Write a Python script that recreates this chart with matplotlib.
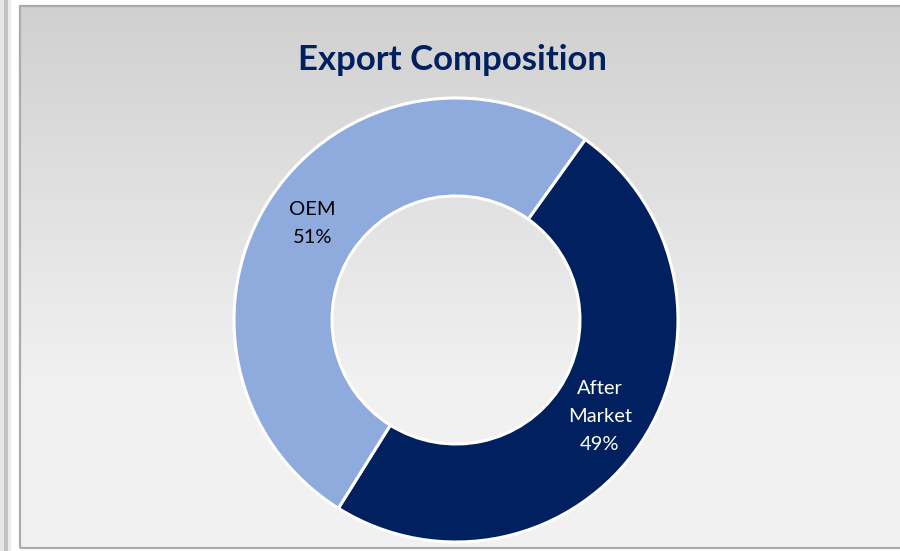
import numpy as np
import matplotlib
matplotlib.use("Agg")
from matplotlib import pyplot as plt
from matplotlib.patches import Rectangle

plt.rcParams['font.family'] = ['Lato', 'DejaVu Sans']

# data
categories = ["After Market", "OEM"]
label_names = ["After\nMarket", "OEM"]
shares = [49, 51]
colors = ["#002060", "#8FAADC"]
text_colors = ["white", "black"]
title = "Export Composition"

W, H = 900, 551
fig = plt.figure(figsize=(W / 100, H / 100), dpi=100)
fig.patch.set_facecolor("white")
ax = fig.add_axes([0, 0, 1, 1])
ax.set_xlim(0, W)
ax.set_ylim(0, H)
ax.set_aspect("equal")
ax.axis("off")

# left strip of the sheet
ax.add_patch(Rectangle((0, 0), 4, H, facecolor="#E6E6E6", edgecolor="none", zorder=0))
ax.add_patch(Rectangle((4, 0), 4, H, facecolor="#C2C2C2", edgecolor="none", zorder=0))
ax.add_patch(Rectangle((8, 0), 3, H, facecolor="#EBEBEB", edgecolor="none", zorder=0))

# chart area with vertical gradient
x0, x1, ytop, ybot = 20, W + 5, H - 6, H - 548
t = np.linspace(0, 1, 256)
g = np.clip(t / 0.72, 0, 1)
col = 0.816 + (0.949 - 0.816) * g
grad = np.repeat(col[:, None, None], 3, axis=2)
ax.imshow(grad, extent=(x0, x1, ybot, ytop), origin="upper", aspect="auto",
          zorder=0.5, interpolation="bilinear")
ax.add_patch(Rectangle((x0, ybot), x1 - x0, ytop - ybot, facecolor="none",
                       edgecolor="#ABABAB", linewidth=1.6, zorder=1))

# donut
cx, cy, r_out = 456, H - 320, 222
r_in = 124
ring = (r_out - r_in) / r_out
startangle = 54.4

wedges, _ = ax.pie(shares, colors=colors, startangle=startangle, counterclock=False,
                   center=(cx, cy), radius=r_out, frame=True,
                   wedgeprops=dict(width=r_out * ring, edgecolor="white", linewidth=2.2))
ax.set_xlim(0, W)
ax.set_ylim(0, H)
ax.axis("off")

r_lab = (r_out + r_in) / 2
for w, name, v, tc in zip(wedges, label_names, shares, text_colors):
    ang = np.deg2rad((w.theta1 + w.theta2) / 2)
    ax.text(cx + r_lab * np.cos(ang), cy + r_lab * np.sin(ang), f"{name}\n{v}%",
            ha="center", va="center", color=tc, fontsize=14.5, linespacing=1.8, zorder=5)

ax.text(452, H - 60, title, ha="center", va="center", fontsize=25,
        fontweight="bold", color="#002060", zorder=5)

fig.savefig("out.png", dpi=100)
